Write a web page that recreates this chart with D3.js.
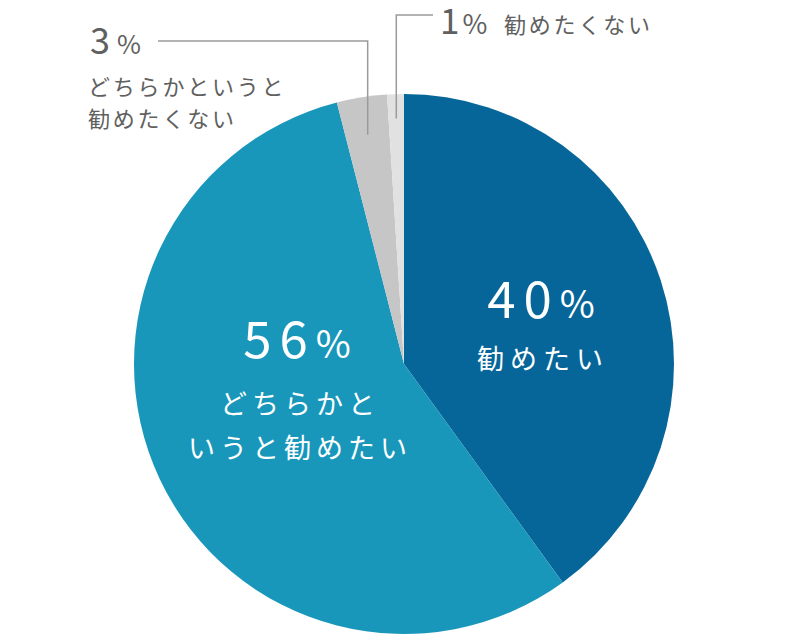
<!DOCTYPE html>
<html>
<head>
<meta charset="utf-8">
<script src="https://cdn.jsdelivr.net/npm/d3@7"></script>
<style>
  body { margin: 0; background: #fff; }
  text { font-family: "Noto Sans CJK JP", "Noto Sans", sans-serif; }
</style>
</head>
<body>
<svg id="chart"></svg>
<script>
// values
const labels = ["勧めたい", "どちらかというと勧めたい", "どちらかというと勧めたくない", "勧めたくない"];
const values = [40, 56, 3, 1];
const colors = ["#066699", "#1897bb", "#c6c6c6", "#e1e1e1"];

const width = 800, height = 640;
const cx = 404, cy = 364, radius = 270;

const svg = d3.select("#chart")
    .attr("width", width)
    .attr("height", height);

const g = svg.append("g")
    .attr("transform", "translate(" + cx + "," + cy + ")");

const pie = d3.pie().sort(null).value(d => d);
const arcs = pie(values);

const arc = d3.arc().innerRadius(0).outerRadius(radius);

g.selectAll("path")
    .data(arcs)
    .enter().append("path")
    .attr("d", arc)
    .attr("fill", (d, i) => colors[i]);

// number + smaller % sign
function pctText(parent, x, y, val, numSize, pctSize, gap, color, anchor) {
    const t = parent.append("text")
        .attr("x", x).attr("y", y)
        .attr("text-anchor", anchor)
        .attr("fill", color)
        .style("font-weight", 400);
    t.append("tspan").text(val).style("font-size", numSize + "px").style("letter-spacing", gap + "px");
    t.append("tspan").text("%").style("font-size", pctSize + "px");
    return t;
}

function lines(parent, x, y, rows, size, spacing, lh, anchor, color) {
    rows.forEach((r, i) => {
        parent.append("text")
            .attr("x", x).attr("y", y + i * lh)
            .attr("text-anchor", anchor)
            .attr("fill", color)
            .style("font-size", size + "px")
            .style("letter-spacing", spacing + "px")
            .style("font-weight", 400)
            .text(r);
    });
}

// 40%
pctText(svg, 541, 318, values[0], 51, 38, 8, "#fff", "middle");
lines(svg, 543, 369, [labels[0]], 27, 6, 0, "middle", "#fff");

// 56%
pctText(svg, 297, 358, values[1], 51, 38, 8, "#fff", "middle");
lines(svg, 300, 414, ["どちらかと", "いうと勧めたい"], 27, 5, 44, "middle", "#fff");

// small slices: leader lines
const lineColor = "#9a9a9a";
const labelColor = "#606060";

function leader(d, frac, yTop, xEnd) {
    const a = (d.startAngle + d.endAngle) / 2;
    const x = Math.sin(a) * radius * frac;
    const y = -Math.cos(a) * radius * frac;
    g.append("polyline")
        .attr("points", [[x, y], [x, yTop - cy], [xEnd - cx, yTop - cy]].map(p => p.join(",")).join(" "))
        .attr("fill", "none")
        .attr("stroke", lineColor)
        .attr("stroke-width", 1.5);
}

leader(arcs[2], 0.86, 41, 158);
leader(arcs[3], 0.91, 15, 433);

// 3%
pctText(svg, 90, 54, values[2], 36, 26, 7, labelColor, "start");
lines(svg, 88, 95, ["どちらかというと", "勧めたくない"], 22, 2.8, 32, "start", labelColor);

// 1%
pctText(svg, 440, 34, values[3], 35, 27, 3, labelColor, "start");
lines(svg, 504, 33, [labels[3]], 22, 2.8, 0, "start", labelColor);
</script>
</body>
</html>
